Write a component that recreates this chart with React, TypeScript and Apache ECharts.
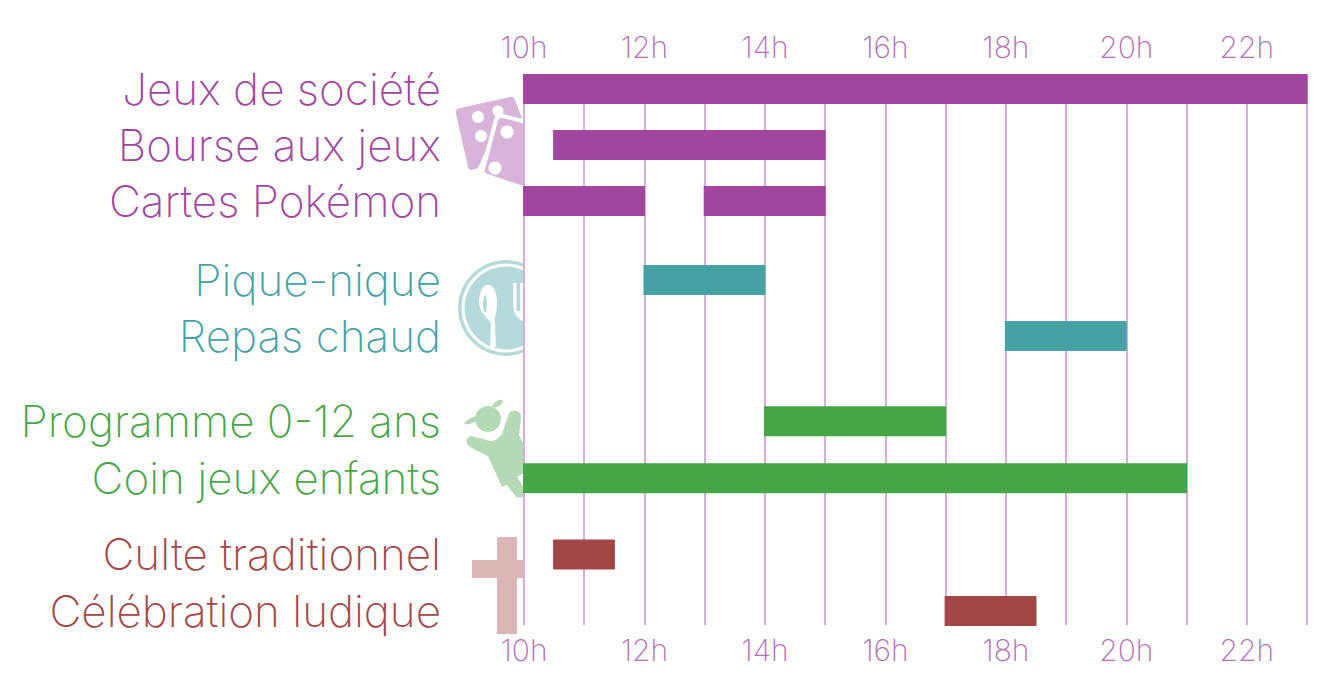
import React, { useEffect, useRef } from "react";
import * as echarts from "echarts";

const rowNames = ["Jeux de société", "Bourse aux jeux", "Cartes Pokémon", "Pique-nique", "Repas chaud", "Programme 0-12 ans", "Coin jeux enfants", "Culte traditionnel", "Célébration ludique"];
const rowPositions = [0, 1, 2, 3.41, 4.41, 5.93, 6.95, 8.31, 9.32];
const rowColors = ["#a2459f", "#a2459f", "#a2459f", "#46a2a5", "#46a2a5", "#46a546", "#46a546", "#a34646", "#a34646"];
const hourTicks = [10, 12, 14, 16, 18, 20, 22];
// [start hour, end hour, row index]
const gamesBars = [[10, 23, 0], [10.5, 15, 1], [10, 12, 2], [13, 15, 2]];
const foodBars = [[12, 14, 3], [18, 20, 4]];
const kidsBars = [[14, 17, 5], [10, 21, 6]];
const worshipBars = [[10.5, 11.5, 7], [17, 18.5, 8]];

const FONT = "Inter";

echarts.graphic.registerShape("dieBack", echarts.graphic.extendPath("M460 108 L510 97 Q514 96 515 100 L522 118 L495 130 L478 168 L472 170 Q469 170 468 167 L456 114 Q455 109 460 108 Z", {}));
echarts.graphic.registerShape("dieFront", echarts.graphic.extendPath("M503 116 L526 122 L526 189 L487 176 Q481 174 483 169 L496 120 Q498 115 503 116 Z", {}));
echarts.graphic.registerShape("spoon", echarts.graphic.extendPath("M488 285 C494 285 497 293 497 303 C497 312 494 318 495 323 L496 346 Q493 349 490 346 L491 323 C491 320 479 314 479 303 C479 293 482 285 488 285 Z", {}));
echarts.graphic.registerShape("fork", echarts.graphic.extendPath("M513 283 L516.5 283 L516.5 311 L520 311 L520 283 L524 283 L524 322 Q514 318 513 305 Z", {}));
echarts.graphic.registerShape("pigtailRight", echarts.graphic.extendPath("M492 407 C494 402 498 399 503 400 C503 404 498 409 492 407 Z", {}));
echarts.graphic.registerShape("pigtailLeft", echarts.graphic.extendPath("M476 416 C472 417 466 420 464 424 C469 425 474 423 477 420 Z", {}));
echarts.graphic.registerShape("child", echarts.graphic.extendPath(
  "M511 411 C516 409 522 412 521 418 L519 435 L524 445 L524 473 L517 477 L524 488 L524 497 C519 499 515 497 513 493 L507 485 L502 487 L488 456 C480 452 472 449 468 445 C465 441 467 437 471 436 L490 441 C495 441 499 438 502 434 L508 416 Q509 412 511 411 Z", {}));

function barSeries(name: string, data: number[][]) {
  return {
    type: "custom",
    name,
    xAxisIndex: 0,
    yAxisIndex: 0,
    encode: { x: [0, 1], y: 2 },
    data: data.map((d) => [d[0], d[1], rowPositions[d[2]], d[2]]),
    clip: false,
    renderItem: (_: any, api: any) => {
      const a = api.coord([api.value(0), api.value(2)]);
      const b = api.coord([api.value(1), api.value(2)]);
      return {
        type: "rect",
        shape: { x: a[0] - 1, y: a[1] - 15, width: b[0] - a[0] + 1.5, height: 30 },
        style: { fill: rowColors[api.value(3)] },
      };
    },
  };
}

function timeAxis(position: string, showLines: boolean) {
  return {
    type: "value",
    position,
    min: 10,
    max: 23,
    interval: 1,
    axisLine: { show: false },
    axisTick: { show: false },
    splitLine: { show: showLines, lineStyle: { color: "#d5aede", width: 2 } },
    axisLabel: {
      customValues: hourTicks,
      formatter: (v: number) => `${v}h`,
      color: "#b36db3",
      fontFamily: FONT,
      fontWeight: 200,
      fontSize: 30,
      margin: position === "top" ? 12 : 10,
    },
  };
}

export default function App() {
  const ref = useRef<HTMLDivElement>(null);
  useEffect(() => {
    document.body.style.margin = "0";
    const chart = echarts.init(ref.current!, undefined, { renderer: "svg" });
    chart.setOption({
      animation: false,
      backgroundColor: "#ffffff",
      grid: { left: 524, top: 74, width: 783, height: 551 },
      xAxis: [timeAxis("top", true), timeAxis("bottom", false)],
      yAxis: {
        type: "value",
        inverse: true,
        min: -0.268,
        max: 9.57,
        axisLine: { show: false },
        axisTick: { show: false },
        splitLine: { show: false },
        axisLabel: {
          customValues: rowPositions,
          formatter: (v: number) => rowNames[rowPositions.indexOf(v)],
          color: (v: any) => rowColors[rowPositions.indexOf(Number(v))],
          fontFamily: FONT,
          fontWeight: 200,
          fontSize: 44,
          margin: 83,
        },
      },
      graphic: [
        {
          type: "group",
          silent: true,
          children: [
            { type: "dieBack", style: { fill: "#d9b4da" } },
            { type: "circle", shape: { cx: 478, cy: 117, r: 6 }, style: { fill: "#fff" } },
            { type: "circle", shape: { cx: 481, cy: 136, r: 6 }, style: { fill: "#fff" } },
            { type: "circle", shape: { cx: 498, cy: 111, r: 5.5 }, style: { fill: "#fff" } },
            { type: "dieFront", style: { fill: "#d9b4da", stroke: "#fff", lineWidth: 4 } },
            { type: "circle", shape: { cx: 507, cy: 132, r: 6.5 }, style: { fill: "#fff" } },
            { type: "circle", shape: { cx: 495, cy: 168, r: 6.5 }, style: { fill: "#fff" } },
            { type: "rect", shape: { x: 523.5, y: 100, width: 4, height: 90 }, style: { fill: "#fff" } },

            { type: "circle", shape: { cx: 506, cy: 308, r: 48 }, style: { fill: "#b5dadb" } },
            { type: "circle", shape: { cx: 506, cy: 308, r: 44.5 }, style: { fill: "#fff" } },
            { type: "circle", shape: { cx: 506, cy: 308, r: 41.5 }, style: { fill: "#b5dadb" } },
            { type: "spoon", style: { fill: "#fff" } },
            { type: "ellipse", shape: { cx: 485, cy: 304, rx: 2, ry: 9 }, style: { fill: "#b5dadb" } },
            { type: "fork", style: { fill: "#fff" } },
            { type: "rect", shape: { x: 524, y: 250, width: 40, height: 120 }, style: { fill: "#fff" } },

            { type: "circle", shape: { cx: 488, cy: 419, r: 13 }, style: { fill: "#b5d9b5" } },
            { type: "pigtailRight", style: { fill: "#b5d9b5" } },
            { type: "pigtailLeft", style: { fill: "#b5d9b5" } },
            { type: "child", style: { fill: "#b5d9b5" } },

            { type: "rect", shape: { x: 497, y: 537, width: 20, height: 97 }, style: { fill: "#dcb6b6" } },
            { type: "rect", shape: { x: 472, y: 560, width: 52, height: 18 }, style: { fill: "#dcb6b6" } },
          ],
        },
      ],
      series: [
        barSeries("Jeux", gamesBars),
        barSeries("Repas", foodBars),
        barSeries("Enfants", kidsBars),
        barSeries("Cultes", worshipBars),
      ],
    });
    return () => chart.dispose();
  }, []);
  return <div ref={ref} style={{ position: "absolute", left: 0, top: 0, width: 1341, height: 690 }} />;
}
